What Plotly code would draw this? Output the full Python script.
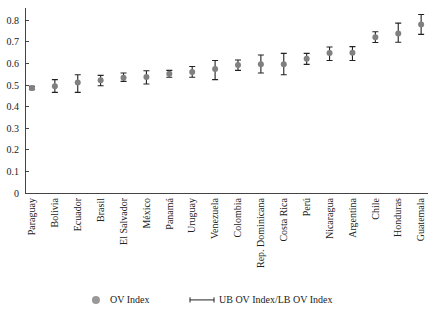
import plotly.graph_objects as go

countries = ["Paraguay", "Bolivia", "Ecuador", "Brasil", "El Salvador", "México", "Panamá",
             "Uruguay", "Venezuela", "Colombia", "Rep. Dominicana", "Costa Rica", "Perú",
             "Nicaragua", "Argentina", "Chile", "Honduras", "Guatemala"]
ov_index = [0.486, 0.494, 0.512, 0.522, 0.534, 0.537, 0.552, 0.560, 0.574, 0.593, 0.597,
            0.597, 0.622, 0.648, 0.650, 0.722, 0.739, 0.781]
ub_ov = [0.494, 0.525, 0.548, 0.545, 0.556, 0.566, 0.568, 0.586, 0.614, 0.616, 0.639,
         0.647, 0.647, 0.676, 0.678, 0.747, 0.787, 0.827]
lb_ov = [0.478, 0.466, 0.466, 0.497, 0.517, 0.505, 0.536, 0.536, 0.525, 0.568, 0.556,
         0.548, 0.596, 0.614, 0.614, 0.697, 0.698, 0.735]
y_ticks = [0, 0.1, 0.2, 0.3, 0.4, 0.5, 0.6, 0.7, 0.8]
y_tick_labels = ["0", "0.1", "0.2", "0.3", "0.4", "0.5", "0.6", "0.7", "0.8"]

err_plus = [u - v for u, v in zip(ub_ov, ov_index)]
err_minus = [v - l for v, l in zip(ov_index, lb_ov)]

FONT = "Liberation Serif"

fig = go.Figure()
fig.add_trace(go.Scatter(
    x=list(range(len(countries))), y=ov_index, mode="markers",
    marker=dict(color="#808080", size=6, line=dict(width=0)),
    error_y=dict(type="data", symmetric=False, array=err_plus, arrayminus=err_minus,
                 color="#222222", thickness=1.1, width=3),
    showlegend=False,
))

fig.update_layout(
    width=434, height=310,
    margin=dict(l=26, r=6, t=8, b=117, autoexpand=False),
    paper_bgcolor="white", plot_bgcolor="white",
    font=dict(family=FONT, size=10, color="#222222"),
    xaxis=dict(
        range=[-0.26, 17.3], tickmode="array",
        tickvals=list(range(len(countries))), ticktext=countries,
        tickangle=-90, showgrid=False, zeroline=False, showline=True,
        linecolor="#444444", linewidth=1, ticks="", automargin=False,
        tickfont=dict(family=FONT, size=10, color="#222222"),
    ),
    yaxis=dict(
        range=[0, 0.857], tickmode="array", tickvals=y_ticks, ticktext=y_tick_labels,
        showgrid=False, zeroline=False, showline=True, linecolor="#444444", linewidth=1,
        ticks="inside", ticklen=3, tickcolor="#444444", ticklabelstandoff=4,
        automargin=False,
        tickfont=dict(family=FONT, size=10, color="#222222"),
    ),
)

# Legend drawn manually
ly = -0.578
fig.add_shape(type="circle", xref="paper", yref="paper", xsizemode="pixel", ysizemode="pixel",
              xanchor=0.174, yanchor=ly, x0=-4, x1=4, y0=-4, y1=4,
              fillcolor="#999999", line=dict(width=0))
fig.add_annotation(xref="paper", yref="paper", x=0.203, y=ly, text="OV Index",
                   showarrow=False, xanchor="left", yanchor="middle",
                   font=dict(family=FONT, size=10, color="#222222"))
x1p, x2p = (190 - 26) / 402, (214 - 26) / 402
fig.add_shape(type="line", xref="paper", yref="paper", x0=x1p, x1=x2p, y0=ly, y1=ly,
              line=dict(color="#222222", width=1))
for xp in (x1p, x2p):
    fig.add_shape(type="line", xref="paper", yref="paper", x0=xp, x1=xp,
                  y0=ly - 0.014, y1=ly + 0.014, line=dict(color="#222222", width=1))
fig.add_annotation(xref="paper", yref="paper", x=(217 - 26) / 402, y=ly,
                   text="UB OV Index/LB OV Index", showarrow=False,
                   xanchor="left", yanchor="middle",
                   font=dict(family=FONT, size=10, color="#222222"))

fig.write_html(
    "out.html",
    config={"displayModeBar": False},
    post_script="document.body.style.margin='0';document.body.style.overflow='hidden';",
)
